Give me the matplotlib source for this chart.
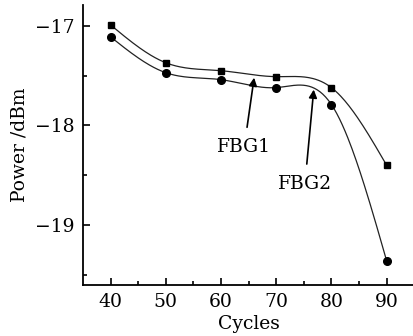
import numpy as np
import matplotlib
matplotlib.use("Agg")
import matplotlib.pyplot as plt

# data
cycles = [40, 50, 60, 70, 80, 90]
fbg1 = [-16.99, -17.37, -17.45, -17.51, -17.62, -18.40]
fbg2 = [-17.11, -17.47, -17.54, -17.62, -17.79, -19.36]


def natural_spline(x, y, n=200):
    # plain natural cubic spline, only used to draw the smooth line
    x = np.asarray(x, dtype=float)
    y = np.asarray(y, dtype=float)
    k = len(x)
    h = np.diff(x)
    A = np.zeros((k, k))
    b = np.zeros(k)
    A[0, 0] = 1
    A[-1, -1] = 1
    for i in range(1, k - 1):
        A[i, i - 1] = h[i - 1]
        A[i, i] = 2 * (h[i - 1] + h[i])
        A[i, i + 1] = h[i]
        b[i] = 3 * ((y[i + 1] - y[i]) / h[i] - (y[i] - y[i - 1]) / h[i - 1])
    c = np.linalg.solve(A, b)
    xs = np.linspace(x[0], x[-1], n)
    ys = np.zeros_like(xs)
    for j, xv in enumerate(xs):
        i = min(np.searchsorted(x, xv, side="right") - 1, k - 2)
        bi = (y[i + 1] - y[i]) / h[i] - h[i] * (2 * c[i] + c[i + 1]) / 3
        di = (c[i + 1] - c[i]) / (3 * h[i])
        t = xv - x[i]
        ys[j] = y[i] + bi * t + c[i] * t ** 2 + di * t ** 3
    return xs, ys


plt.rcParams["font.family"] = "DejaVu Serif"
fs = 13.5

fig = plt.figure(figsize=(4.14, 3.36), dpi=100)
ax = fig.add_axes([0.2005, 0.153, 0.80, 0.832])

for vals, mk, ms in [(fbg1, "s", 5), (fbg2, "o", 5.5)]:
    xs, ys = natural_spline(cycles, vals)
    ax.plot(xs, ys, color="#222222", lw=0.9)
    ax.plot(cycles, vals, linestyle="none", marker=mk, ms=ms, color="black")

ax.annotate("FBG1", xy=(66.0, -17.52), xytext=(64.2, -18.22),
            ha="center", va="center", fontsize=fs,
            arrowprops=dict(arrowstyle="-|>", color="black", lw=1.2,
                            mutation_scale=12, shrinkA=6, shrinkB=0))
ax.annotate("FBG2", xy=(76.8, -17.64), xytext=(75.2, -18.59),
            ha="center", va="center", fontsize=fs,
            arrowprops=dict(arrowstyle="-|>", color="black", lw=1.2,
                            mutation_scale=12, shrinkA=6, shrinkB=0))

ax.set_xlim(35, 95)
ax.set_ylim(-19.6, -16.79)
ax.set_xticks([40, 50, 60, 70, 80, 90])
ax.set_xticks([45, 55, 65, 75, 85], minor=True)
ax.set_yticks([-19, -18, -17])
ax.set_yticks([-19.5, -18.5, -17.5], minor=True)
ax.set_yticklabels(["\u221219", "\u221218", "\u221217"])
ax.tick_params(direction="in", length=5, width=1.2, labelsize=fs, pad=6)
ax.tick_params(which="minor", direction="in", length=3, width=1.2)
ax.spines["top"].set_visible(False)
ax.spines["right"].set_visible(False)
ax.spines["left"].set_linewidth(1.3)
ax.spines["bottom"].set_linewidth(1.3)
ax.set_xlabel("Cycles", fontsize=fs, labelpad=3)
ax.set_ylabel("Power /dBm", fontsize=fs, labelpad=5)

fig.savefig("out.png", dpi=100)
